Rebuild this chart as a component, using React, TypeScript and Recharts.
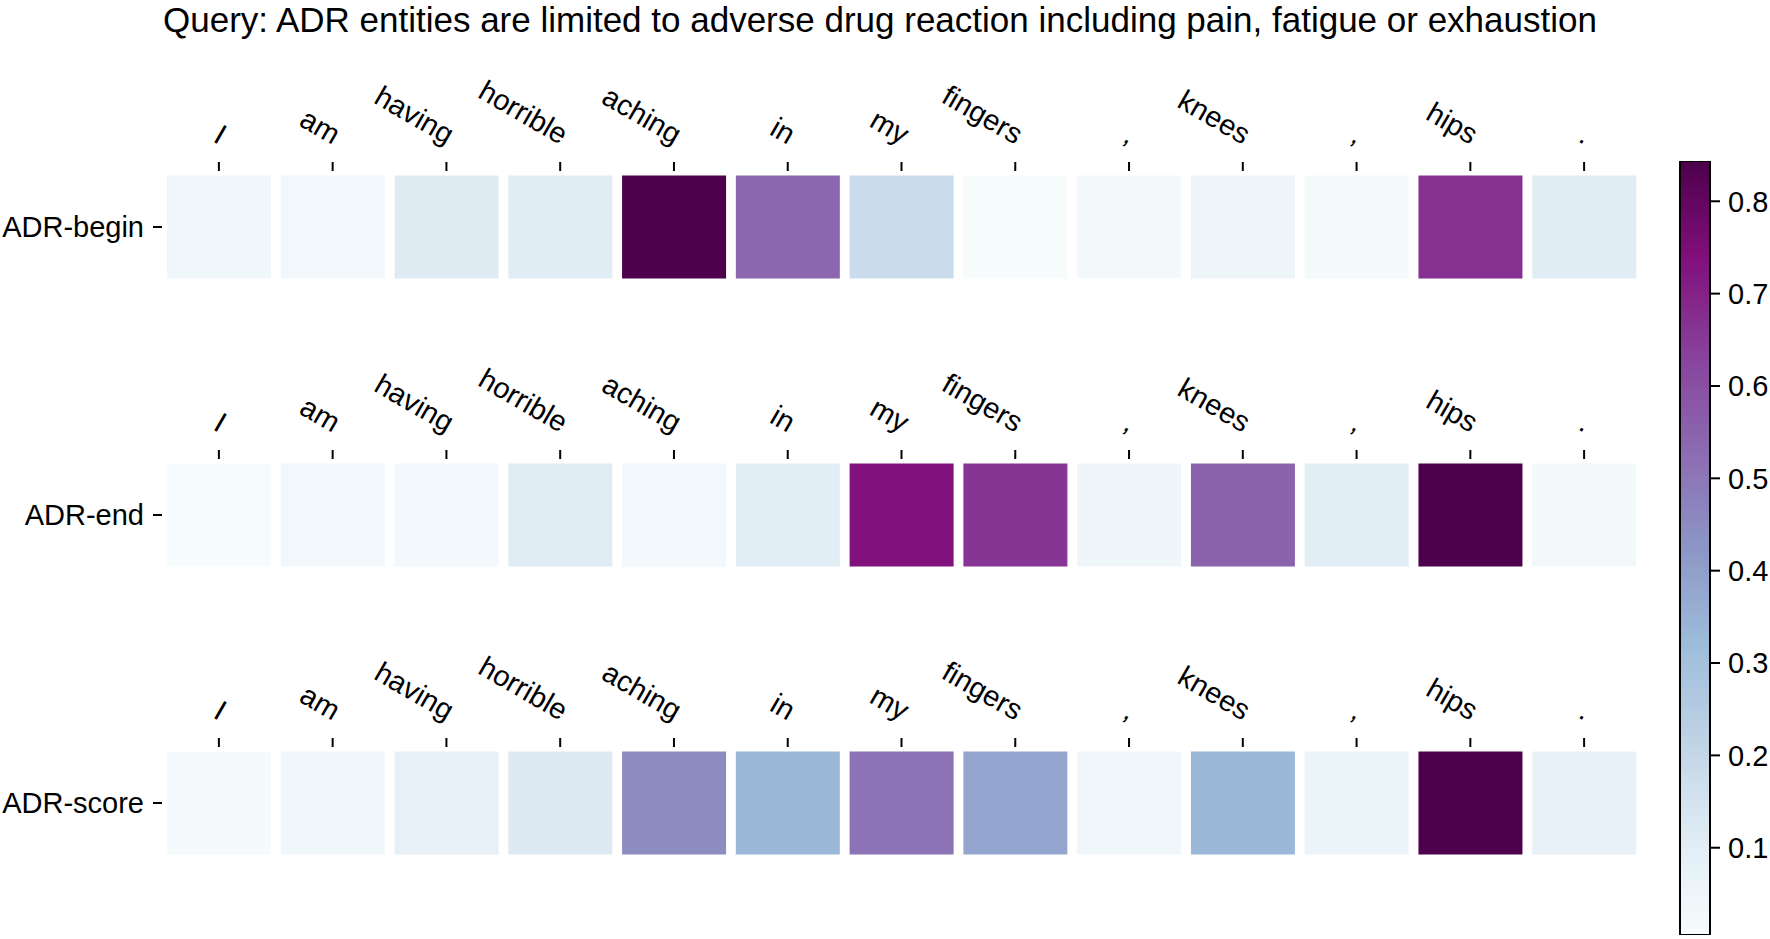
import React from "react";
import { Bar, BarChart, Cell, XAxis, YAxis } from "recharts";

// tokens of the query sentence (top tick labels of each row)
const words = ["I", "am", "having", "horrible", "aching", "in", "my", "fingers", ",", "knees", ",", "hips", "."];
const rowLabels = ["ADR-begin", "ADR-end", "ADR-score"];

// attention weights
const adrBegin = [0.04, 0.035, 0.115, 0.105, 0.8436, 0.54, 0.18, 0.012, 0.025, 0.05, 0.02, 0.67, 0.105];
const adrEnd = [0.008, 0.035, 0.03, 0.11, 0.03, 0.1, 0.735, 0.66, 0.045, 0.55, 0.1, 0.8436, 0.025];
const adrScore = [0.015, 0.04, 0.085, 0.12, 0.45, 0.33, 0.51, 0.38, 0.04, 0.33, 0.06, 0.8436, 0.075];

const colorbarTicks = [0.1, 0.2, 0.3, 0.4, 0.5, 0.6, 0.7, 0.8];
const vmin = 0.0055;
const vmax = 0.8436;

// matplotlib BuPu
const buPu = ["#f7fcfd", "#e0ecf4", "#bfd3e6", "#9ebcda", "#8c96c6", "#8c6bb1", "#88419d", "#810f7c", "#4d004b"];

const FONT = "Arial, 'Liberation Sans', sans-serif";

function hexToRgb(h: string) {
  return [parseInt(h.slice(1, 3), 16), parseInt(h.slice(3, 5), 16), parseInt(h.slice(5, 7), 16)];
}

function colorOf(v: number) {
  const t = Math.max(0, Math.min(1, (v - vmin) / (vmax - vmin)));
  const pos = t * (buPu.length - 1);
  const i = Math.min(buPu.length - 2, Math.floor(pos));
  const f = pos - i;
  const a = hexToRgb(buPu[i]);
  const b = hexToRgb(buPu[i + 1]);
  const c = a.map((x, k) => Math.round(x + (b[k] - x) * f));
  return `rgb(${c[0]},${c[1]},${c[2]})`;
}

const WordTick = (props: any) => {
  const { x, y, payload } = props;
  return (
    <text
      x={x}
      y={y}
      textAnchor="end"
      fontSize={29}
      fontFamily={FONT}
      fill="#000"
      transform={`rotate(30 ${x} ${y})`}
    >
      {words[payload.value]}
    </text>
  );
};

function HeatRow({ label, values, top }: { label: string; values: number[]; top: number }) {
  const data = values.map((v, i) => ({ idx: i, cell: 1, v }));
  return (
    <div style={{ position: "absolute", left: 0, top }}>
      <BarChart
        width={1660}
        height={232}
        data={data}
        margin={{ top: 0, right: 19, bottom: 10, left: 0 }}
        barCategoryGap={5}
      >
        <XAxis
          dataKey="idx"
          type="category"
          orientation="top"
          height={110}
          interval={0}
          tickSize={9}
          tickMargin={17}
          axisLine={false}
          tickLine={{ stroke: "#000", strokeWidth: 2 }}
          tick={<WordTick />}
        />
        <YAxis
          type="number"
          domain={[-0.045, 1.045]}
          allowDataOverflow
          ticks={[0.5]}
          width={162}
          tickSize={9}
          tickMargin={9}
          axisLine={false}
          tickLine={{ stroke: "#000", strokeWidth: 2 }}
          tickFormatter={() => label}
          tick={{ fill: "#000", fontSize: 29, fontFamily: FONT }}
        />
        <Bar dataKey="cell" isAnimationActive={false}>
          {data.map((d) => (
            <Cell key={d.idx} fill={colorOf(d.v)} />
          ))}
        </Bar>
      </BarChart>
    </div>
  );
}

function ColorBar() {
  return (
    <div style={{ position: "absolute", left: 1670, top: 151 }}>
      <BarChart
        width={100}
        height={794}
        data={[{ name: "cb", v: vmax }]}
        margin={{ top: 10, right: 0, bottom: 10, left: 10 }}
        barCategoryGap={0}
      >
        <XAxis dataKey="name" hide />
        <YAxis
          orientation="right"
          type="number"
          domain={[vmin, vmax]}
          allowDataOverflow
          ticks={colorbarTicks}
          width={60}
          tickSize={10}
          tickMargin={8}
          axisLine={false}
          tickLine={{ stroke: "#000", strokeWidth: 2 }}
          tickFormatter={(v: number) => v.toFixed(1)}
          tick={{ fill: "#000", fontSize: 29, fontFamily: FONT }}
        />
        <Bar dataKey="v" fill="url(#bupuGrad)" stroke="#000" strokeWidth={2} isAnimationActive={false} />
      </BarChart>
    </div>
  );
}

export default function App() {
  const rows = [adrBegin, adrEnd, adrScore];
  return (
    <div style={{ position: "relative", width: 1770, height: 939, background: "#fff", fontFamily: FONT, overflow: "hidden" }}>
      <style>{`body{margin:0}`}</style>
      <svg width={0} height={0} style={{ position: "absolute" }}>
        <defs>
          <linearGradient id="bupuGrad" x1="0" y1="1" x2="0" y2="0">
            {buPu.map((c, i) => (
              <stop key={i} offset={i / (buPu.length - 1)} stopColor={c} />
            ))}
          </linearGradient>
        </defs>
      </svg>
      <div
        style={{
          position: "absolute",
          left: 0,
          top: 0,
          width: 1760,
          textAlign: "center",
          fontSize: 35,
          lineHeight: "40px",
          color: "#000",
          whiteSpace: "nowrap",
        }}
      >
        Query: ADR entities are limited to adverse drug reaction including pain, fatigue or exhaustion
      </div>
      {rows.map((vals, r) => (
        <HeatRow key={r} label={rowLabels[r]} values={vals} top={61 + r * 288} />
      ))}
      <ColorBar />
    </div>
  );
}
